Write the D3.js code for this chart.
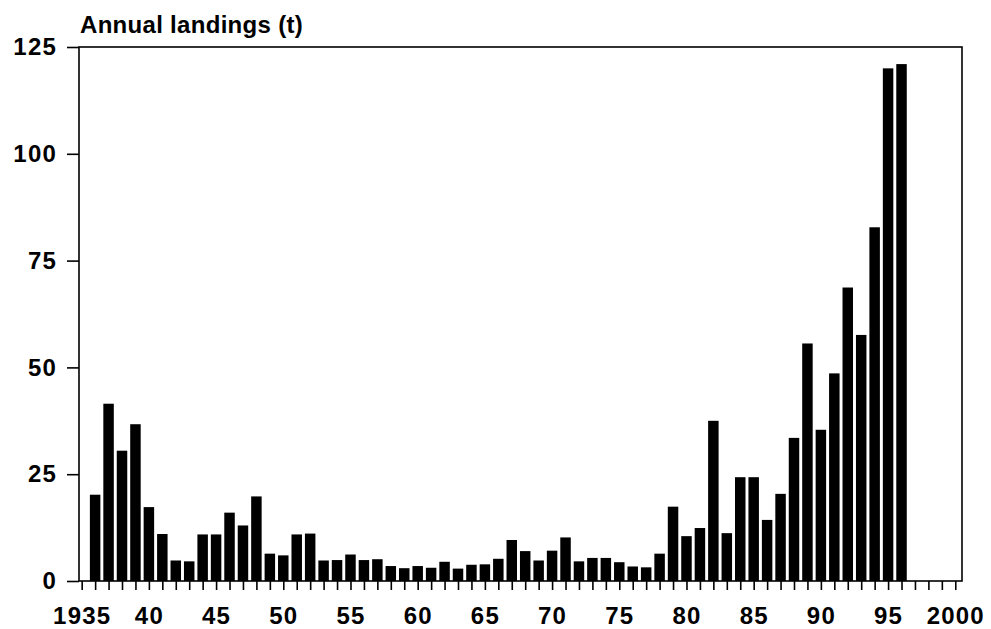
<!DOCTYPE html>
<html>
<head>
<meta charset="utf-8">
<script src="https://cdn.jsdelivr.net/npm/d3@7/dist/d3.min.js"></script>
<style>
  html, body { margin: 0; padding: 0; background: #fff; }
  svg { display: block; }
  text { font-family: "Liberation Sans", Arial, Helvetica, sans-serif; font-weight: bold; fill: #000; }
</style>
</head>
<body>
<svg id="chart" width="991" height="629"></svg>
<script>
const years = [1936,1937,1938,1939,1940,1941,1942,1943,1944,1945,1946,1947,1948,1949,1950,
  1951,1952,1953,1954,1955,1956,1957,1958,1959,1960,1961,1962,1963,1964,1965,1966,1967,1968,1969,1970,
  1971,1972,1973,1974,1975,1976,1977,1978,1979,1980,1981,1982,1983,1984,1985,1986,1987,1988,1989,1990,
  1991,1992,1993,1994,1995,1996];
const landings = [20.2,41.5,30.5,36.7,17.3,11.0,4.8,4.6,10.9,10.9,16.0,13.0,19.8,6.4,6.0,
  10.9,11.1,4.8,4.9,6.2,4.9,5.1,3.5,3.0,3.5,3.1,4.5,2.9,3.8,3.9,5.2,9.6,7.0,4.8,7.1,
  10.2,4.6,5.4,5.4,4.4,3.4,3.2,6.4,17.4,10.5,12.4,37.5,11.2,24.3,24.3,14.3,20.4,33.5,55.6,35.4,
  48.6,68.7,57.6,82.8,120.0,121.0];
const yTicks = [0,25,50,75,100,125];
const xTickYears = [1935,1936,1937,1938,1939,1940,1941,1942,1943,1944,1945,1946,1947,1948,1949,1950,
  1951,1952,1953,1954,1955,1956,1957,1958,1959,1960,1961,1962,1963,1964,1965,1966,1967,1968,1969,1970,
  1971,1972,1973,1974,1975,1976,1977,1978,1979,1980,1981,1982,1983,1984,1985,1986,1987,1988,1989,1990,
  1991,1992,1993,1994,1995,1996,1997,1998,1999,2000];
const xLabels = {1935:"1935",1940:"40",1945:"45",1950:"50",1955:"55",1960:"60",1965:"65",1970:"70",
  1975:"75",1980:"80",1985:"85",1990:"90",1995:"95",2000:"2000"};
const title = "Annual landings (t)";

const svg = d3.select("#chart");
const L = 79, R = 962, T = 47, B = 581;

const x = d3.scaleLinear().domain([1934.8, 2000.5]).range([L, R]);
const y = d3.scaleLinear().domain([0, 125]).range([B, T]);
const step = x(1936) - x(1935);
const bw = step * 0.78;

// bars
svg.append("g").selectAll("rect").data(years).join("rect")
  .attr("x", (d) => x(d) - bw / 2)
  .attr("width", bw)
  .attr("y", (d, i) => y(landings[i]))
  .attr("height", (d, i) => y(0) - y(landings[i]))
  .attr("fill", "#000");

// frame
svg.append("rect")
  .attr("x", L).attr("y", T).attr("width", R - L).attr("height", B - T)
  .attr("fill", "none").attr("stroke", "#000").attr("stroke-width", 1.6);

// y axis
const yAxis = svg.append("g").attr("transform", `translate(${L},0)`)
  .call(d3.axisLeft(y).tickValues(yTicks).tickSize(12).tickPadding(10).tickSizeOuter(0));
yAxis.select(".domain").remove();
yAxis.selectAll("line").attr("stroke", "#000").attr("stroke-width", 1.6);
yAxis.selectAll("text").attr("font-size", 24).attr("letter-spacing", 1.2)
  .style("font-family", '"Liberation Sans", Arial, sans-serif').style("font-weight", "bold");

// x axis
const xAxis = svg.append("g").attr("transform", `translate(0,${B})`)
  .call(d3.axisBottom(x).tickValues(xTickYears).tickSize(9).tickPadding(17)
    .tickFormat((d) => xLabels[d] || "").tickSizeOuter(0));
xAxis.select(".domain").remove();
xAxis.selectAll("line").attr("stroke", "#000").attr("stroke-width", 1.6);
xAxis.selectAll("text").attr("font-size", 24).attr("letter-spacing", 1.2)
  .style("font-family", '"Liberation Sans", Arial, sans-serif').style("font-weight", "bold");

// title
svg.append("text").attr("x", 80).attr("y", 33)
  .attr("font-size", 24).attr("letter-spacing", 0.3).text(title);
</script>
</body>
</html>
